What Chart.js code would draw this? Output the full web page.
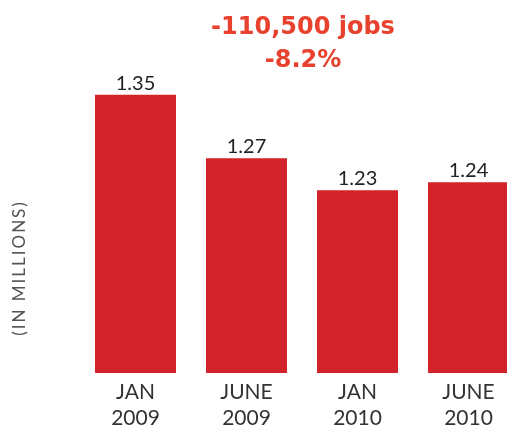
<!DOCTYPE html>
<html>
<head>
<meta charset="utf-8">
<script src="https://cdn.jsdelivr.net/npm/chart.js@4"></script>
<style>
    html, body { margin: 0; padding: 0; background: #fff; overflow: hidden; }
</style>
</head>
<body>
<canvas id="jobs-chart" width="530" height="432"></canvas>
<script>
// data
const categories = [['JAN', '2009'], ['JUNE', '2009'], ['JAN', '2010'], ['JUNE', '2010']];
const jobs = [1.35, 1.27, 1.23, 1.24];
const headline = ['-110,500 jobs', '-8.2%'];
const yTitle = '(IN MILLIONS)';

// value above each bar
const valueLabels = {
    id: 'valueLabels',
    afterDatasetsDraw(chart) {
        const ctx = chart.ctx;
        const meta = chart.getDatasetMeta(0);
        ctx.save();
        ctx.font = '20px Lato';
        ctx.fillStyle = '#222';
        ctx.textAlign = 'center';
        ctx.textBaseline = 'alphabetic';
        meta.data.forEach((bar, i) => {
            ctx.fillText(jobs[i].toFixed(2), bar.x, bar.y - 5);
        });
        ctx.restore();
    }
};

// headline and rotated axis caption
const extras = {
    id: 'extras',
    afterDraw(chart) {
        const ctx = chart.ctx;
        ctx.save();
        ctx.font = 'bold 24px "DejaVu Sans"';
        ctx.fillStyle = '#e8412d';
        ctx.textAlign = 'center';
        ctx.textBaseline = 'alphabetic';
        ctx.fillText(headline[0], 303, 34);
        ctx.fillText(headline[1], 303, 67);

        ctx.translate(20, 268);
        ctx.rotate(-Math.PI / 2);
        ctx.font = '17px Lato';
        ctx.letterSpacing = '2px';
        ctx.fillStyle = '#555';
        ctx.textBaseline = 'middle';
        ctx.fillText(yTitle, 0, 0);
        ctx.restore();
    }
};

const ctx = document.getElementById('jobs-chart').getContext('2d');
const jobsChart = new Chart(ctx, {
    type: 'bar',
    data: {
        labels: categories,
        datasets: [{
            data: jobs,
            backgroundColor: '#d2232a',
            categoryPercentage: 1,
            barPercentage: 0.73
        }]
    },
    options: {
        responsive: false,
        animation: false,
        layout: {
            // bottom is negative so the two-line labels can sit low like the reference
            padding: { top: 55, left: 80, right: 6, bottom: -5.4 }
        },
        plugins: {
            legend: { display: false },
            tooltip: { enabled: false }
        },
        scales: {
            y: {
                display: false,
                min: 1.0,
                max: 1.4
            },
            x: {
                grid: { display: false, drawTicks: false },
                border: { display: false },
                ticks: {
                    color: '#333',
                    padding: 7,
                    font: { family: 'Lato', size: 21, lineHeight: 1.2 }
                }
            }
        }
    },
    plugins: [valueLabels, extras]
});
</script>
</body>
</html>
